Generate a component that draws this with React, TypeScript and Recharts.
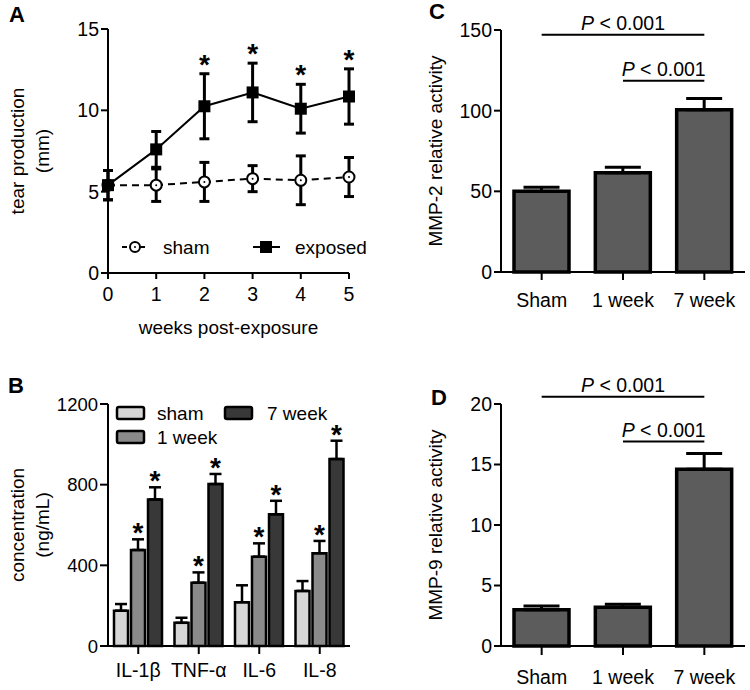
import React from 'react';
import {
  LineChart, Line, BarChart, Bar, XAxis, YAxis, ErrorBar, LabelList, Legend,
  ReferenceLine, Label,
} from 'recharts';

const FONT = '"Liberation Sans", Arial, Helvetica, sans-serif';

// ---------- Panel A: tear production ----------
const weeks = [0, 1, 2, 3, 4, 5];
const shamTear = [5.4, 5.4, 5.6, 5.8, 5.7, 5.9];
const shamTearErr = [0.9, 1.0, 1.2, 0.8, 1.5, 1.2];
const exposedTear = [5.4, 7.6, 10.25, 11.1, 10.1, 10.85];
const exposedTearErr = [0.9, 1.1, 2.0, 1.8, 1.5, 1.7];
const exposedSig = [false, false, true, true, true, true];
const tearTicks = [0, 5, 10, 15];

// ---------- Panel B: cytokines ----------
const cytokines = ['IL-1β', 'TNF-α', 'IL-6', 'IL-8'];
const cytoSham = [175, 115, 217, 273];
const cytoShamErr = [33, 25, 84, 49];
const cyto1w = [476, 314, 443, 460];
const cyto1wErr = [53, 51, 66, 61];
const cyto7w = [727, 803, 653, 927];
const cyto7wErr = [60, 50, 67, 91];
const cytoTicks = [0, 400, 800, 1200];

// ---------- Panel C / D: MMP activity ----------
const groups = ['Sham', '1 week', '7 week'];
const mmp2 = [50, 61.5, 100.5];
const mmp2Err = [2.5, 3.5, 7];
const mmp2Ticks = [0, 50, 100, 150];
const mmp2Brackets = [
  { from: 'Sham', to: '7 week', y: 147 },
  { from: '1 week', to: '7 week', y: 118.5 },
];
const mmp9 = [3.0, 3.2, 14.6];
const mmp9Err = [0.3, 0.25, 1.3];
const mmp9Ticks = [0, 5, 10, 15, 20];
const mmp9Brackets = [
  { from: 'Sham', to: '7 week', y: 20.6 },
  { from: '1 week', to: '7 week', y: 16.9 },
];
const pValueText = ' < 0.001';

// ---------- derived tables ----------
const tearData = weeks.map((w, i) => ({
  week: w,
  sham: shamTear[i],
  shamErr: shamTearErr[i],
  exposed: exposedTear[i],
  exposedErr: exposedTearErr[i],
  star: exposedSig[i] ? exposedTear[i] + exposedTearErr[i] : null,
}));

const cytoData = cytokines.map((c, i) => ({
  name: c,
  sham: cytoSham[i],
  shamErr: [0, cytoShamErr[i]],
  w1: cyto1w[i],
  w1Err: [0, cyto1wErr[i]],
  w7: cyto7w[i],
  w7Err: [0, cyto7wErr[i]],
}));

const mmp2Data = groups.map((g, i) => ({ name: g, v: mmp2[i], err: [0, mmp2Err[i]] }));
const mmp9Data = groups.map((g, i) => ({ name: g, v: mmp9[i], err: [0, mmp9Err[i]] }));

// ---------- helpers ----------
const axisLine = { stroke: '#000', strokeWidth: 2 };
const tickStyle = { fill: '#000', fontSize: 19.5, fontFamily: FONT };

const yTitle = (lines: string[], xs: number[]) => (props: any) => {
  const vb = props.viewBox || { y: 0, height: 0 };
  const cy = vb.y + vb.height / 2;
  return (
    <g>
      {lines.map((l, i) => (
        <text
          key={i}
          x={xs[i]}
          y={cy}
          transform={`rotate(-90 ${xs[i]} ${cy})`}
          textAnchor="middle"
          dominantBaseline="central"
          fontSize={19}
          fontFamily={FONT}
          fill="#000"
        >
          {l}
        </text>
      ))}
    </g>
  );
};

const xTitle = (text: string, baseline: number) => (props: any) => {
  const vb = props.viewBox || { x: 0, width: 0 };
  return (
    <text x={vb.x + vb.width / 2} y={baseline} textAnchor="middle" fontSize={19} fontFamily={FONT} fill="#000">
      {text}
    </text>
  );
};

const PLabel = (props: any) => {
  const vb = props.viewBox || { x: 0, y: 0, width: 0 };
  return (
    <text x={vb.x + vb.width / 2} y={vb.y - 5} textAnchor="middle" fontSize={19.5} fontFamily={FONT} fill="#000">
      <tspan fontStyle="italic">P</tspan>
      {pValueText}
    </text>
  );
};

const Star = ({ x, y }: { x: number; y: number }) => (
  <text x={x} y={y} textAnchor="middle" fontSize={28} fontWeight="bold" fontFamily={FONT} fill="#000">
    *
  </text>
);

const barStar = (errs: number[]) => (props: any) => {
  const { x, y, width, height, value, index } = props;
  if (value == null || !height) return null;
  const top = y - (errs[index] * height) / value;
  return <Star key={index} x={x + width / 2} y={top + 3} />;
};

const LegendA = () => (
  <svg width={260} height={28} style={{ display: 'block', overflow: 'visible' }}>
    <line x1={4} x2={30} y1={14} y2={14} stroke="#000" strokeWidth={2} strokeDasharray="5 4" />
    <circle cx={17} cy={14} r={5} fill="#fff" stroke="#000" strokeWidth={2} />
    <circle cx={17} cy={14} r={1} fill="#000" />
    <text x={45} y={14} dominantBaseline="central" fontSize={19} fontFamily={FONT} fill="#000">sham</text>
    <line x1={135} x2={162} y1={14} y2={14} stroke="#000" strokeWidth={2} />
    <rect x={142} y={8} width={12} height={12} fill="#000" />
    <text x={177} y={14} dominantBaseline="central" fontSize={19} fontFamily={FONT} fill="#000">exposed</text>
  </svg>
);

const C_SHAM = '#d6d6d6';
const C_1W = '#8a8a8a';
const C_7W = '#383838';
const C_MMP = '#5c5c5c';

const LegendB = () => (
  <svg width={260} height={48} style={{ display: 'block', overflow: 'visible' }}>
    <rect x={6} y={5} width={27} height={12} rx={2} fill={C_SHAM} stroke="#000" strokeWidth={2.5} />
    <text x={46} y={11} dominantBaseline="central" fontSize={19} fontFamily={FONT} fill="#000">sham</text>
    <rect x={6} y={29} width={27} height={12} rx={2} fill={C_1W} stroke="#000" strokeWidth={2.5} />
    <text x={46} y={35} dominantBaseline="central" fontSize={19} fontFamily={FONT} fill="#000">1 week</text>
    <rect x={114} y={5} width={27} height={12} rx={2} fill={C_7W} stroke="#000" strokeWidth={2.5} />
    <text x={156} y={11} dominantBaseline="central" fontSize={19} fontFamily={FONT} fill="#000">7 week</text>
  </svg>
);

const openCircle = (props: any) => {
  const { cx, cy, index } = props;
  if (cx == null || cy == null) return <g key={index} />;
  return (
    <g key={index}>
      <circle cx={cx} cy={cy} r={5.5} fill="#fff" stroke="#000" strokeWidth={2} />
      <circle cx={cx} cy={cy} r={1} fill="#000" />
    </g>
  );
};
const filledSquare = (props: any) => {
  const { cx, cy, index } = props;
  if (cx == null || cy == null) return <g key={index} />;
  return <rect key={index} x={cx - 6} y={cy - 6} width={12} height={12} fill="#000" />;
};

const starLabel = (props: any) => {
  const { x, y, value, index } = props;
  if (value == null || y == null) return null;
  return <Star key={index} x={x} y={y} />;
};

function MmpChart({ data, ticks, domainMax, brackets, title, height, top, xTickGap, tickSize }: any) {
  return (
    <BarChart width={330} height={height} data={data} margin={{ top, right: 5, bottom: 0, left: 0 }}>
      <XAxis
        dataKey="name"
        interval={0}
        axisLine={axisLine}
        tickLine={axisLine}
        tick={tickStyle}
        tickSize={tickSize}
        tickMargin={xTickGap}
        height={height - top - 242}
      />
      <YAxis
        type="number"
        domain={[0, domainMax]}
        ticks={ticks}
        interval={0}
        width={81}
        axisLine={axisLine}
        tickLine={axisLine}
        tick={tickStyle}
        tickSize={7}
        tickMargin={2}
      >
        <Label content={yTitle([title], [15])} />
      </YAxis>
      <Bar dataKey="v" barSize={55} fill={C_MMP} stroke="#000" strokeWidth={3.5} isAnimationActive={false}>
        <ErrorBar dataKey="err" direction="y" width={18} strokeWidth={3} stroke="#000" />
      </Bar>
      {brackets.map((b: any, i: number) => (
        <ReferenceLine
          key={i}
          segment={[{ x: b.from, y: b.y }, { x: b.to, y: b.y }]}
          stroke="#000"
          strokeWidth={2}
          ifOverflow="visible"
          label={<Label content={PLabel} />}
        />
      ))}
    </BarChart>
  );
}

export default function App() {
  return (
    <div style={{ position: 'absolute', left: 0, top: 0, width: 750, height: 690, background: '#fff', fontFamily: FONT }}>
      {/* Panel A */}
      <div style={{ position: 'absolute', left: 0, top: 0 }}>
        <LineChart width={380} height={345} data={tearData} margin={{ top: 29, right: 31, bottom: 0, left: 0 }}>
          <XAxis
            dataKey="week"
            type="number"
            domain={[0, 5]}
            ticks={weeks}
            interval={0}
            axisLine={axisLine}
            tickLine={axisLine}
            tick={tickStyle}
            tickSize={6}
            tickMargin={8}
            height={72}
          >
            <Label content={xTitle('weeks post-exposure', 334)} />
          </XAxis>
          <YAxis
            type="number"
            domain={[0, 15]}
            ticks={tearTicks}
            interval={0}
            width={108}
            axisLine={axisLine}
            tickLine={axisLine}
            tick={tickStyle}
            tickSize={7}
            tickMargin={2}
          >
            <Label content={yTitle(['tear production', '(mm)'], [17, 42])} />
          </YAxis>
          <Legend
            layout="horizontal"
            verticalAlign="middle"
            align="center"
            wrapperStyle={{ left: 118, top: 233, width: 260 }}
            content={() => <LegendA />}
          />
          <Line
            dataKey="sham"
            stroke="#000"
            strokeWidth={2}
            strokeDasharray="7 5"
            dot={openCircle}
            activeDot={false}
            isAnimationActive={false}
          >
            <ErrorBar dataKey="shamErr" direction="y" width={5} strokeWidth={3} stroke="#000" />
          </Line>
          <Line
            dataKey="exposed"
            stroke="#000"
            strokeWidth={2}
            dot={filledSquare}
            activeDot={false}
            isAnimationActive={false}
          >
            <ErrorBar dataKey="exposedErr" direction="y" width={5} strokeWidth={3} stroke="#000" />
          </Line>
          <Line
            dataKey="star"
            stroke="none"
            dot={false}
            activeDot={false}
            legendType="none"
            isAnimationActive={false}
          >
            <LabelList dataKey="star" content={starLabel} />
          </Line>
        </LineChart>
      </div>

      {/* Panel B */}
      <div style={{ position: 'absolute', left: 0, top: 360 }}>
        <BarChart width={380} height={330} data={cytoData} margin={{ top: 44, right: 30, bottom: 0, left: 0 }} barSize={14} barGap={3}>
          <XAxis
            dataKey="name"
            interval={0}
            axisLine={axisLine}
            tickLine={axisLine}
            tick={tickStyle}
            tickSize={8}
            tickMargin={9}
            height={44}
          />
          <YAxis
            type="number"
            domain={[0, 1200]}
            ticks={cytoTicks}
            interval={0}
            width={108}
            axisLine={axisLine}
            tickLine={axisLine}
            tick={{ ...tickStyle, fontSize: 18.5 }}
            tickSize={8}
            tickMargin={2}
          >
            <Label content={yTitle(['concentration', '(ng/mL)'], [17, 42])} />
          </YAxis>
          <Legend
            layout="horizontal"
            verticalAlign="middle"
            align="center"
            wrapperStyle={{ left: 111, top: 42, width: 260 }}
            content={() => <LegendB />}
          />
          <Bar dataKey="sham" fill={C_SHAM} stroke="#000" strokeWidth={2.5} isAnimationActive={false}>
            <ErrorBar dataKey="shamErr" direction="y" width={6} strokeWidth={2.5} stroke="#000" />
          </Bar>
          <Bar dataKey="w1" fill={C_1W} stroke="#000" strokeWidth={2.5} isAnimationActive={false}>
            <ErrorBar dataKey="w1Err" direction="y" width={6} strokeWidth={2.5} stroke="#000" />
            <LabelList dataKey="w1" content={barStar(cyto1wErr)} />
          </Bar>
          <Bar dataKey="w7" fill={C_7W} stroke="#000" strokeWidth={2.5} isAnimationActive={false}>
            <ErrorBar dataKey="w7Err" direction="y" width={6} strokeWidth={2.5} stroke="#000" />
            <LabelList dataKey="w7" content={barStar(cyto7wErr)} />
          </Bar>
        </BarChart>
      </div>

      {/* Panel C */}
      <div style={{ position: 'absolute', left: 420, top: 0 }}>
        <MmpChart
          data={mmp2Data}
          ticks={mmp2Ticks}
          domainMax={150}
          brackets={mmp2Brackets}
          title="MMP-2 relative activity"
          height={345}
          top={30}
          tickSize={8}
          xTickGap={13}
        />
      </div>

      {/* Panel D */}
      <div style={{ position: 'absolute', left: 420, top: 340 }}>
        <MmpChart
          data={mmp9Data}
          ticks={mmp9Ticks}
          domainMax={20}
          brackets={mmp9Brackets}
          title="MMP-9 relative activity"
          height={350}
          top={64}
          tickSize={9}
          xTickGap={15}
        />
      </div>

      {/* panel letters */}
      <svg width={750} height={690} style={{ position: 'absolute', left: 0, top: 0, pointerEvents: 'none' }}>
        <text x={9} y={22} fontSize={22} fontWeight="bold" fontFamily={FONT} fill="#000">A</text>
        <text x={8} y={393} fontSize={22} fontWeight="bold" fontFamily={FONT} fill="#000">B</text>
        <text x={429} y={19} fontSize={22} fontWeight="bold" fontFamily={FONT} fill="#000">C</text>
        <text x={431} y={405} fontSize={22} fontWeight="bold" fontFamily={FONT} fill="#000">D</text>
      </svg>
    </div>
  );
}
